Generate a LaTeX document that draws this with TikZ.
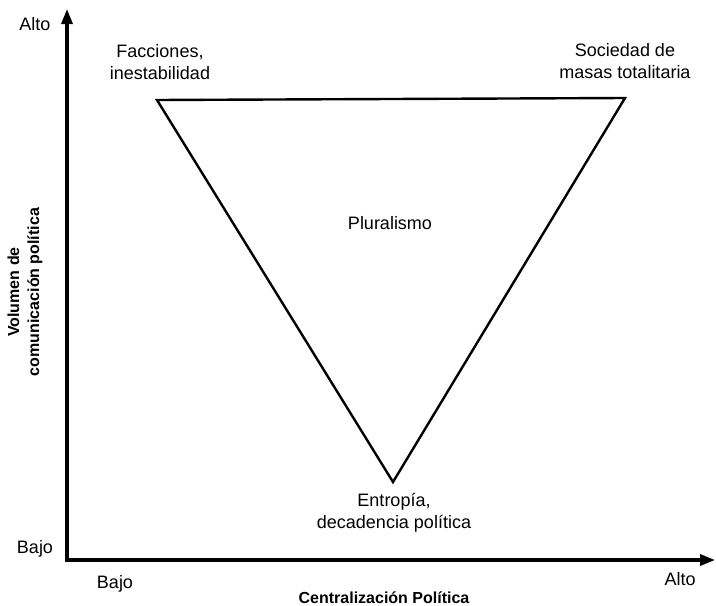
\documentclass[tikz,border=0pt]{standalone}
\usepackage{fontspec}
\setmainfont{Liberation Sans}
\usetikzlibrary{arrows.meta}
\begin{document}
\begin{tikzpicture}[x=0.5pt, y=-0.5pt,
  every node/.style={font=\fontsize{9}{11}\selectfont, inner sep=0pt},
  axis/.style={line width=1.6pt, {Triangle[length=7.5pt, width=5.5pt]}-{Triangle[length=7.5pt, width=5.5pt]}},
  zone/.style={align=center},
  axislabel/.style={font=\fontsize{8}{10}\selectfont\bfseries, align=center}]
\useasboundingbox (0,0) rectangle (716,605);

\coordinate (o) at (67,560);
\coordinate (ytop) at (67,9);
\coordinate (xend) at (715,560);
\coordinate (fi) at (157,100);
\coordinate (so) at (625,98);
\coordinate (en) at (393,482);

\draw [axis] (ytop) -- (o) -- (xend);
\draw [line width=1.2pt] (fi) -- (so) -- (en) -- cycle;

\node (facc) [zone] at (160,62) {Facciones,\\inestabilidad};
\node (soc) [zone] at (625,61) {Sociedad de\\masas totalitaria};
\node (plur) at (390,223) {Pluralismo};
\node (entr) [zone] at (394,513) {Entropía,\\decadencia política};

\node (yalto) at (35,24) {Alto};
\node (ybajo) at (35,549) {Bajo};
\node (xbajo) at (115,584) {Bajo};
\node (xalto) at (680,579) {Alto};
\node (xlabel) [axislabel] at (384,598) {Centralización Política};
\node (ylabel) [axislabel, rotate=90] at (25,292) {Volumen de\\comunicación política};
\end{tikzpicture}
\end{document}
